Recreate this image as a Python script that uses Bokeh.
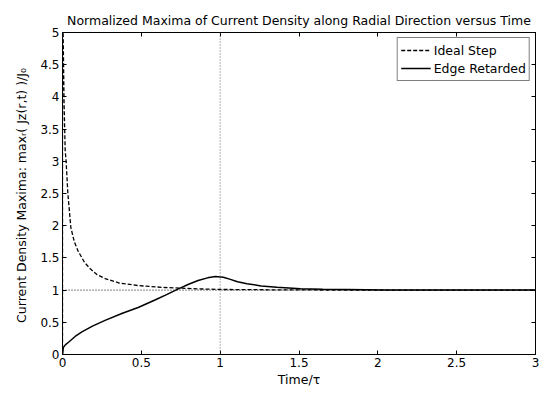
from bokeh.plotting import figure
from bokeh.models import (ColumnDataSource, Span, LinearAxis, Legend, LegendItem,
                          CustomJSTickFormatter, FixedTicker, Range1d)
from bokeh.embed import file_html
from bokeh.resources import INLINE

# data
ideal_t = [0.0, 0.0, 0.002, 0.004, 0.01, 0.017, 0.023, 0.034, 0.053, 0.075, 0.10,
           0.14, 0.176, 0.22, 0.27, 0.36, 0.48, 0.65, 0.85, 1.0, 1.3, 1.6, 2.0, 3.0]
ideal_y = [0.0, 6.5, 6.0, 5.0, 3.9, 3.17, 3.0, 2.5, 1.97, 1.75, 1.6,
           1.43, 1.33, 1.24, 1.18, 1.11, 1.07, 1.04, 1.02, 1.01, 1.005, 1.002, 1.0, 1.0]

edge_t = [0.0, 0.002, 0.006, 0.018, 0.038, 0.08, 0.123, 0.19, 0.27, 0.38, 0.48, 0.59,
          0.66, 0.735, 0.8, 0.86, 0.92, 0.97, 1.02, 1.06, 1.11, 1.17, 1.26, 1.36, 1.51,
          1.65, 1.8, 2.05, 3.0]
edge_y = [0.0, 0.04, 0.11, 0.15, 0.19, 0.28, 0.35, 0.44, 0.53, 0.64, 0.73, 0.85,
          0.93, 1.02, 1.09, 1.15, 1.19, 1.21, 1.2, 1.17, 1.13, 1.10, 1.065, 1.045, 1.02,
          1.012, 1.008, 1.0, 1.0]

x_ticks = [0, 0.5, 1, 1.5, 2, 2.5, 3]
y_ticks = [0, 0.5, 1, 1.5, 2, 2.5, 3, 3.5, 4, 4.5, 5]

FONT = "DejaVu Sans"

p = figure(width=539, height=393, output_backend="svg", toolbar_location=None,
           x_range=Range1d(0, 3), y_range=Range1d(0, 5),
           title="Normalized Maxima of Current Density along Radial Direction versus Time",
           min_border_left=62, min_border_right=4, min_border_top=32, min_border_bottom=39)
p.title.align = "center"
p.title.text_font = FONT
p.title.text_font_size = "12.5px"
p.title.text_font_style = "normal"
p.title.text_color = "black"
p.title.offset = 0
p.grid.visible = False
p.outline_line_color = "black"
p.outline_line_width = 1
p.background_fill_color = "white"
p.border_fill_color = "white"

for ax in (p.xaxis[0], p.yaxis[0]):
    ax.major_tick_in = 4
    ax.major_tick_out = 0
    ax.minor_tick_line_color = None
    ax.major_label_text_font = FONT
    ax.major_label_text_font_size = "12px"
    ax.major_label_text_color = "black"
    ax.axis_label_text_font = FONT
    ax.axis_label_text_font_size = "12.5px"
    ax.axis_label_text_font_style = "normal"
    ax.axis_label_text_color = "black"
    ax.axis_line_color = "black"
    ax.major_label_standoff = 3

p.xaxis[0].ticker = FixedTicker(ticks=x_ticks)
p.yaxis[0].ticker = FixedTicker(ticks=y_ticks)
p.xaxis[0].axis_label = "Time/τ"
p.xaxis[0].axis_label_standoff = 2
p.yaxis[0].axis_label = "Current Density Maxima:  maxᵣ( Jz(r,t) )/J₀"
p.yaxis[0].axis_label_standoff = 8

empty = CustomJSTickFormatter(code="return ''")
for loc, tk in (("right", y_ticks), ("above", x_ticks)):
    ax = LinearAxis(ticker=FixedTicker(ticks=tk), formatter=empty,
                    major_tick_in=4, major_tick_out=0, minor_tick_line_color=None,
                    axis_line_color="black", major_label_standoff=0)
    p.add_layout(ax, loc)

p.add_layout(Span(location=1, dimension="width", line_color="black",
                  line_dash="1 2", line_width=1))
p.add_layout(Span(location=1, dimension="height", line_color="#666666",
                  line_dash="1 2", line_width=1))

src_i = ColumnDataSource(dict(t=ideal_t, y=ideal_y))
src_e = ColumnDataSource(dict(t=edge_t, y=edge_y))
r1 = p.line("t", "y", source=src_i, line_color="black", line_width=1.3, line_dash="4 2")
r2 = p.line("t", "y", source=src_e, line_color="black", line_width=1.5)

leg = Legend(items=[LegendItem(label="Ideal Step", renderers=[r1]),
                    LegendItem(label="Edge Retarded", renderers=[r2])],
             location="top_right")
leg.label_text_font = FONT
leg.label_text_font_size = "12.5px"
leg.label_text_color = "black"
leg.border_line_color = "black"
leg.border_line_width = 1
leg.glyph_width = 30
leg.glyph_height = 18
leg.label_height = 18
leg.spacing = 0
leg.padding = 3
leg.margin = 5
leg.label_standoff = 3
p.add_layout(leg)

open("out.html", "w").write(file_html(p, INLINE))
